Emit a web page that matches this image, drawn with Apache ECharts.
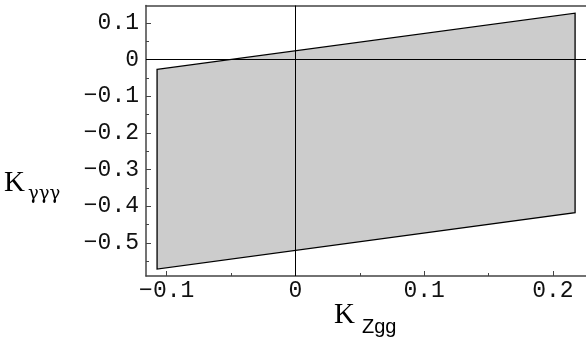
<!DOCTYPE html>
<html><head><meta charset="utf-8">
<script src="https://cdn.jsdelivr.net/npm/echarts@6/dist/echarts.min.js"></script>
<style>html,body{margin:0;padding:0;background:#fff}#c{width:586px;height:338px}</style>
</head><body><div id="c"></div>
<script>
// Allowed region (parallelogram) vertices
const regionX = [-0.1075, 0.2172, 0.2172, -0.1075];
const regionY = [-0.0267, 0.1267, -0.418, -0.5717];
// Tick values
const xMajorTicks = [-0.1, 0, 0.1, 0.2];
const xMinorTicks = [-0.05, 0.05, 0.15];
const yMajorTicks = [0.1, 0, -0.1, -0.2, -0.3, -0.4, -0.5];
const yMinorTicks = [0.05, -0.05, -0.15, -0.25, -0.35, -0.45, -0.55];
const xRange = [-0.1161, 0.235];
const yRange = [-0.5907, 0.1477];

function fmt(v) {
  if (Math.abs(v) < 1e-9) return '0';
  const s = Math.abs(v).toFixed(1);
  return (v < 0 ? '\u2212' : '') + s;
}

const chart = echarts.init(document.getElementById('c'), null, {renderer: 'canvas'});
const frameColor = '#444';
const labelFont = {fontFamily: 'Liberation Mono', fontSize: 23, color: '#111'};

chart.setOption({
  animation: false,
  backgroundColor: '#fff',
  grid: {left: 146, top: 5.5, height: 270.5, width: 452, containLabel: false, outerBoundsMode: 'none'},
  xAxis: [
    {type: 'value', position: 'bottom', min: xRange[0], max: xRange[1],
     axisLine: {show: true, onZero: false, lineStyle: {color: frameColor, width: 1.5}},
     axisTick: {show: true, inside: true, length: 5, customValues: xMajorTicks, lineStyle: {color: frameColor}},
     axisLabel: Object.assign({show: true, margin: 3, customValues: xMajorTicks, formatter: fmt}, labelFont),
     splitLine: {show: false}},
    {type: 'value', position: 'bottom', offset: 0, min: xRange[0], max: xRange[1],
     axisLine: {show: false, onZero: false},
     axisTick: {show: true, inside: true, length: 3, customValues: xMinorTicks, lineStyle: {color: frameColor}},
     axisLabel: {show: false}, splitLine: {show: false}},
    {type: 'value', position: 'top', min: xRange[0], max: xRange[1],
     axisLine: {show: true, onZero: false, lineStyle: {color: frameColor, width: 1.5}},
     axisTick: {show: false}, axisLabel: {show: false}, splitLine: {show: false}}
  ],
  yAxis: [
    {type: 'value', position: 'left', min: yRange[0], max: yRange[1],
     axisLine: {show: true, onZero: false, lineStyle: {color: frameColor, width: 1.5}},
     axisTick: {show: true, inside: true, length: 5, customValues: yMajorTicks, lineStyle: {color: frameColor}},
     axisLabel: Object.assign({show: true, margin: 7, customValues: yMajorTicks, formatter: fmt}, labelFont),
     splitLine: {show: false}},
    {type: 'value', position: 'left', offset: 0, min: yRange[0], max: yRange[1],
     axisLine: {show: false, onZero: false},
     axisTick: {show: true, inside: true, length: 3, customValues: yMinorTicks, lineStyle: {color: frameColor}},
     axisLabel: {show: false}, splitLine: {show: false}}
  ],
  series: [
    {
      type: 'custom', xAxisIndex: 0, yAxisIndex: 0, z: 2,
      data: regionX.map((x, i) => [x, regionY[i]]),
      renderItem: function (params, api) {
        if (params.dataIndex !== 0) return null;
        const pts = regionX.map((x, i) => api.coord([x, regionY[i]]));
        return {type: 'polygon', shape: {points: pts},
                style: {fill: '#cccccc', stroke: '#000', lineWidth: 1.3}};
      }
    },
    {
      type: 'line', xAxisIndex: 0, yAxisIndex: 0, z: 5, data: [],
      markLine: {silent: true, symbol: ['none', 'none'], animation: false,
        label: {show: false},
        lineStyle: {color: '#000', width: 1, type: 'solid'},
        data: [{xAxis: 0}, {yAxis: 0}]}
    }
  ],
  graphic: [
    {type: 'text', style: {x: 4, y: 198, text: 'K', font: '29px "Liberation Serif"', fill: '#000', verticalAlign: 'bottom'}},
    {type: 'text', style: {x: 28, y: 203, text: 'γγγ', font: '18px "DejaVu Serif"', fill: '#000', verticalAlign: 'bottom'}},
    {type: 'text', style: {x: 334, y: 330, text: 'K', font: '29px "Liberation Serif"', fill: '#000', verticalAlign: 'bottom'}},
    {type: 'text', style: {x: 362, y: 337, text: 'Zgg', font: '20px "Liberation Sans"', fill: '#000', verticalAlign: 'bottom'}}
  ]
});
</script></body></html>
